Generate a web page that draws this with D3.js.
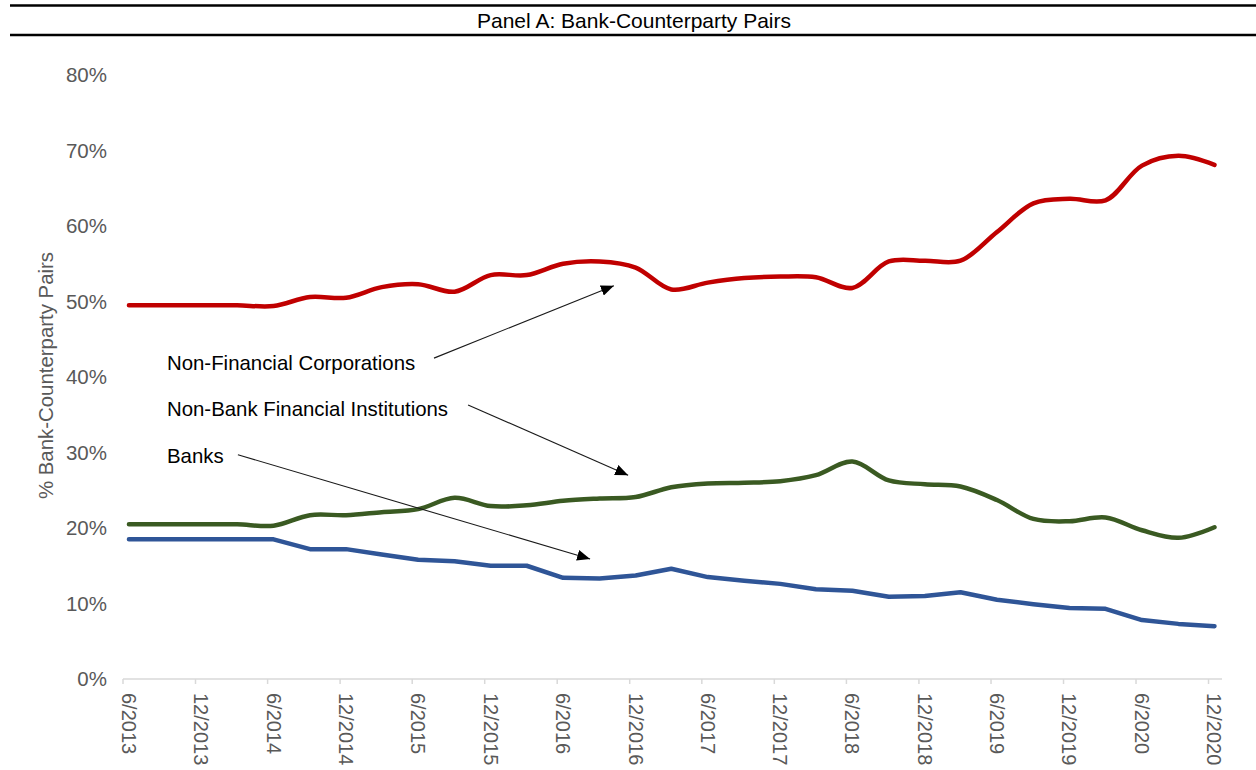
<!DOCTYPE html>
<html>
<head>
<meta charset="utf-8">
<title>Panel A: Bank-Counterparty Pairs</title>
<script src="https://d3js.org/d3.v7.min.js"></script>
<style>
  body { margin: 0; background: #fff; font-family: "Liberation Sans", Arial, sans-serif; }
</style>
</head>
<body>
<div id="chart"></div>
<script>
// quarterly observations, 6/2013 .. 12/2020
var quarters = ["2013-06","2013-09","2013-12","2014-03","2014-06","2014-09","2014-12","2015-03",
  "2015-06","2015-09","2015-12","2016-03","2016-06","2016-09","2016-12","2017-03",
  "2017-06","2017-09","2017-12","2018-03","2018-06","2018-09","2018-12","2019-03",
  "2019-06","2019-09","2019-12","2020-03","2020-06","2020-09","2020-12"];

// % of bank-counterparty pairs
var nonFinCorp = [49.5,49.5,49.5,49.5,49.4,50.6,50.5,51.9,52.3,51.3,53.5,53.5,55.0,55.3,54.5,51.6,
  52.5,53.1,53.3,53.2,51.8,55.3,55.4,55.4,59.2,63.0,63.6,63.4,68.0,69.3,68.1];
var nonBankFin = [20.5,20.5,20.5,20.5,20.3,21.7,21.7,22.1,22.5,24.0,22.9,23.0,23.6,23.9,24.1,25.4,
  25.9,26.0,26.2,27.0,28.8,26.3,25.8,25.5,23.7,21.2,20.9,21.4,19.7,18.7,20.1];
var banks = [18.5,18.5,18.5,18.5,18.5,17.2,17.2,16.5,15.8,15.6,15.0,15.0,13.4,13.3,13.7,14.6,
  13.5,13.0,12.6,11.9,11.7,10.9,11.0,11.5,10.5,9.9,9.4,9.3,7.8,7.3,7.0];

// axis labels
var xTickLabels = ["6/2013","12/2013","6/2014","12/2014","6/2015","12/2015","6/2016","12/2016",
  "6/2017","12/2017","6/2018","12/2018","6/2019","12/2019","6/2020","12/2020"];
var yTicks = [0,10,20,30,40,50,60,70,80];

// annotations: [label, text baseline value, arrow from (date, value), arrow to (date, value)]
var notes = [
  ["Non-Financial Corporations", 40.9, "2015-07-26", 42.5, "2016-10-22", 52.1],
  ["Non-Bank Financial Institutions", 34.8, "2015-10-20", 36.3, "2016-11-27", 27.0],
  ["Banks", 28.6, "2014-03-18", 29.7, "2016-08-23", 15.9]
];

var W = 1256, H = 770;
var svg = d3.select("#chart").append("svg")
  .attr("width", W).attr("height", H)
  .style("font-family", "'Liberation Sans', Arial, sans-serif");

// title band
svg.append("line").attr("x1", 10).attr("x2", W).attr("y1", 5.5).attr("y2", 5.5)
  .attr("stroke", "#000").attr("stroke-width", 2.4);
svg.append("line").attr("x1", 10).attr("x2", W).attr("y1", 35).attr("y2", 35)
  .attr("stroke", "#000").attr("stroke-width", 2.4);
svg.append("text").attr("x", 634).attr("y", 28)
  .attr("text-anchor", "middle").style("font-size", "21px").attr("fill", "#000")
  .text("Panel A: Bank-Counterparty Pairs");

var parseM = d3.timeParse("%Y-%m");
var parseD = d3.timeParse("%Y-%m-%d");
// observations sit mid-month, tick marks at the start of the month
function obsDate(q) { var d = parseM(q); return d3.timeDay.offset(d, 15); }

var x = d3.scaleTime()
  .domain([new Date(2013, 5, 1), new Date(2021, 0, 4)])
  .range([123, 1222]);
var y = d3.scaleLinear().domain([0, 80]).range([679, 75]);

// y tick labels
svg.append("g").selectAll("text").data(yTicks).join("text")
  .attr("x", 107).attr("y", function (d) { return y(d); })
  .attr("dy", "0.35em").attr("text-anchor", "end")
  .style("font-size", "20.5px").attr("fill", "#595959")
  .text(function (d) { return d + "%"; });

svg.append("text")
  .attr("transform", "translate(53," + y(40.2) + ") rotate(-90)")
  .attr("text-anchor", "middle").style("font-size", "20.4px").attr("fill", "#595959")
  .text("% Bank-Counterparty Pairs");

// x axis
var labelQuarters = quarters.filter(function (q, i) { return i % 2 === 0; });
var xAxis = svg.append("g");
xAxis.append("line").attr("x1", x.range()[0]).attr("x2", x.range()[1])
  .attr("y1", y(0)).attr("y2", y(0)).attr("stroke", "#d9d9d9").attr("stroke-width", 1.5);
xAxis.selectAll(".tick").data(labelQuarters).join("line")
  .attr("class", "tick")
  .attr("x1", function (q) { return x(parseM(q)); })
  .attr("x2", function (q) { return x(parseM(q)); })
  .attr("y1", y(0)).attr("y2", y(0) + 5)
  .attr("stroke", "#d9d9d9").attr("stroke-width", 1.5);
xAxis.selectAll(".lbl").data(labelQuarters).join("text")
  .attr("class", "lbl")
  .attr("transform", function (q) { return "translate(" + x(obsDate(q)) + "," + (y(0) + 14) + ") rotate(90)"; })
  .attr("dy", "0.35em")
  .style("font-size", "20px").attr("fill", "#595959")
  .text(function (q, i) { return xTickLabels[i]; });

// series
var series = [
  { values: nonFinCorp, color: "#c00000", curve: d3.curveCatmullRom.alpha(0.5) },
  { values: nonBankFin, color: "#3a5a22", curve: d3.curveCatmullRom.alpha(0.5) },
  { values: banks, color: "#2f5597", curve: d3.curveLinear }
];
series.forEach(function (s) {
  var line = d3.line()
    .x(function (d, i) { return x(obsDate(quarters[i])); })
    .y(function (d) { return y(d); })
    .curve(s.curve);
  svg.append("path").datum(s.values)
    .attr("d", line)
    .attr("fill", "none")
    .attr("stroke", s.color)
    .attr("stroke-width", 4.5)
    .attr("stroke-linecap", "round")
    .attr("stroke-linejoin", "round");
});

// annotations
svg.append("defs").append("marker")
  .attr("id", "head").attr("viewBox", "0 0 12 10")
  .attr("refX", 12).attr("refY", 5)
  .attr("markerWidth", 13).attr("markerHeight", 11)
  .attr("markerUnits", "userSpaceOnUse")
  .attr("orient", "auto")
  .append("path").attr("d", "M0,0 L12,5 L0,10 Z").attr("fill", "#000");

var noteX = x(parseD("2013-09-20"));
notes.forEach(function (n) {
  svg.append("text").attr("x", noteX).attr("y", y(n[1]))
    .style("font-size", "20.4px").attr("fill", "#000").text(n[0]);
  svg.append("line")
    .attr("x1", x(parseD(n[2]))).attr("y1", y(n[3]))
    .attr("x2", x(parseD(n[4]))).attr("y2", y(n[5]))
    .attr("stroke", "#1a1a1a").attr("stroke-width", 1.1)
    .attr("marker-end", "url(#head)");
});
</script>
</body>
</html>
